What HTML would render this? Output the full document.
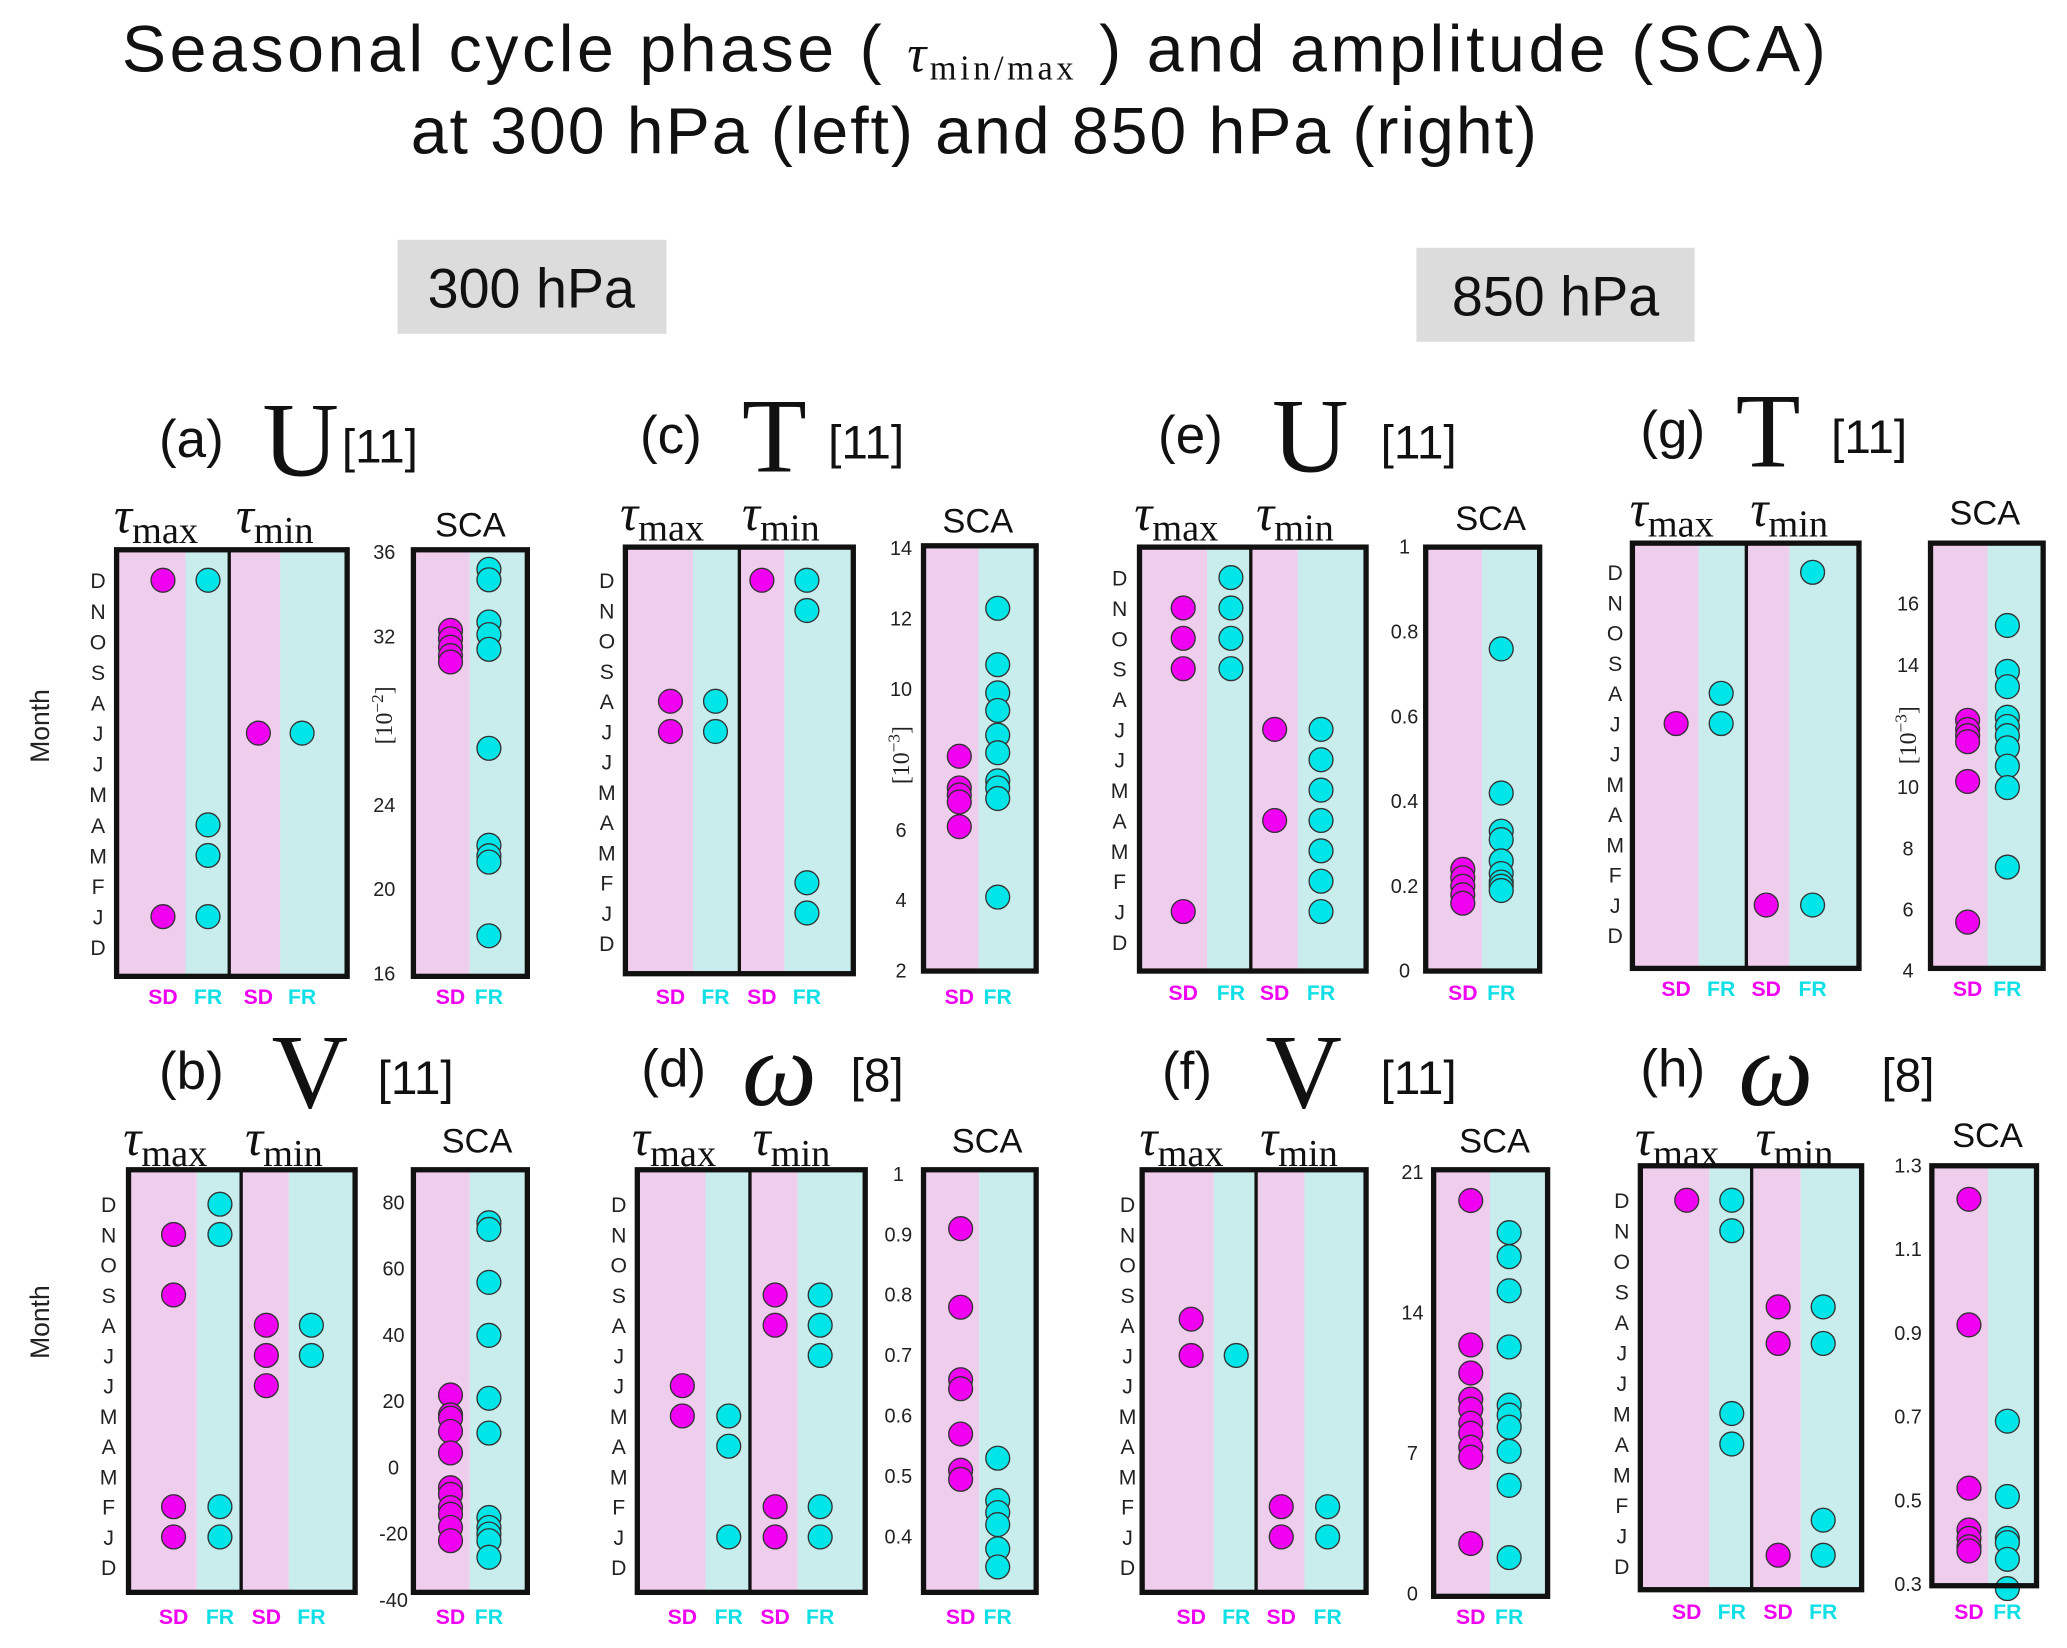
<!DOCTYPE html>
<html><head><meta charset="utf-8">
<style>
html,body{margin:0;padding:0;background:#fff;}
svg{display:block;}
</style></head>
<body>
<svg id="fig" xmlns="http://www.w3.org/2000/svg" width="2067" height="1648" viewBox="0 0 1560 1244" preserveAspectRatio="none">
<g font-family="Liberation Sans, sans-serif" fill="#111">
<text x="92" y="54" font-size="50" textLength="1286" lengthAdjust="spacing">Seasonal cycle phase ( <tspan font-family="Liberation Serif, serif" font-style="italic" font-size="40">τ</tspan><tspan font-family="Liberation Serif, serif" font-size="26" dy="6">min/max</tspan><tspan dy="-6"> ) and amplitude (SCA)</tspan></text>
<text x="310" y="116" font-size="50" textLength="850" lengthAdjust="spacing">at 300 hPa (left) and 850 hPa (right)</text>
</g>
<g>
<rect x="300" y="181" width="203" height="71" fill="#dcdcdc"/>
<text x="401" y="232" font-family="Liberation Sans, sans-serif" font-size="42" text-anchor="middle" fill="#111">300 hPa</text>
</g>
<g>
<rect x="1069" y="187" width="210" height="71" fill="#dcdcdc"/>
<text x="1174" y="238" font-family="Liberation Sans, sans-serif" font-size="42" text-anchor="middle" fill="#111">850 hPa</text>
</g>
<text transform="translate(37,548) rotate(-90)" font-family="Liberation Sans, sans-serif" font-size="20" text-anchor="middle" fill="#222">Month</text>
<text transform="translate(37,998) rotate(-90)" font-family="Liberation Sans, sans-serif" font-size="20" text-anchor="middle" fill="#222">Month</text>
</svg>
<script>
// Month index: 0 = D (bottom), 1 = J, 2 = F, ... 12 = D (top)
const monthLabels = ["D","J","F","M","A","M","J","J","A","S","O","N","D"];

// (a) U 300 hPa
const a_tmax_sd = [12, 1];
const a_tmax_fr = [12, 4, 3, 1];
const a_tmin_sd = [7];
const a_tmin_fr = [7];
const a_sca_sd = [32.3, 31.9, 31.5, 31.1, 30.8];
const a_sca_fr = [35.2, 34.7, 32.7, 32.1, 31.4, 26.7, 22.1, 21.6, 21.3, 17.8];
const a_ticks = [16, 20, 24, 32, 36];
// (c) T 300 hPa
const c_tmax_sd = [8, 7];
const c_tmax_fr = [8, 7];
const c_tmin_sd = [12];
const c_tmin_fr = [12, 11, 2, 1];
const c_sca_sd = [8.1, 7.2, 7.0, 6.8, 6.1];
const c_sca_fr = [12.3, 10.7, 9.9, 9.4, 8.7, 8.2, 7.4, 7.2, 6.9, 4.1];
const c_ticks = [2, 4, 6, 10, 12, 14];
// (e) U 850 hPa
const e_tmax_sd = [11, 10, 9, 1];
const e_tmax_fr = [12, 11, 10, 9];
const e_tmin_sd = [7, 4];
const e_tmin_fr = [7, 6, 5, 4, 3, 2, 1];
const e_sca_sd = [0.24, 0.22, 0.20, 0.18, 0.16];
const e_sca_fr = [0.76, 0.42, 0.33, 0.31, 0.26, 0.23, 0.21, 0.20, 0.19];
const e_ticks = [0, 0.2, 0.4, 0.6, 0.8, 1];
// (g) T 850 hPa
const g_tmax_sd = [7];
const g_tmax_fr = [8, 7];
const g_tmin_sd = [1];
const g_tmin_fr = [12, 1];
const g_sca_sd = [12.2, 11.9, 11.7, 11.5, 10.2, 5.6];
const g_sca_fr = [15.3, 13.8, 13.3, 12.3, 12.0, 11.7, 11.3, 10.7, 10.0, 7.4];
const g_ticks = [4, 6, 8, 10, 14, 16];
// (b) V 300 hPa
const b_tmax_sd = [11, 9, 2, 1];
const b_tmax_fr = [12, 11, 2, 1];
const b_tmin_sd = [8, 7, 6];
const b_tmin_fr = [8, 7];
const b_sca_sd = [22, 16, 15, 11, 4.5, -6, -8, -12, -14, -18, -22];
const b_sca_fr = [74, 72, 56, 40, 21, 10.5, -15, -18, -20, -22, -27];
const b_ticks = [-40, -20, 0, 20, 40, 60, 80];
// (d) omega 300 hPa
const d_tmax_sd = [6, 5];
const d_tmax_fr = [5, 4, 1];
const d_tmin_sd = [9, 8, 2, 1];
const d_tmin_fr = [9, 8, 7, 2, 1];
const d_sca_sd = [0.91, 0.78, 0.66, 0.645, 0.57, 0.51, 0.495];
const d_sca_fr = [0.53, 0.46, 0.44, 0.42, 0.38, 0.35];
const d_ticks = [0.4, 0.5, 0.6, 0.7, 0.8, 0.9, 1];
// (f) V 850 hPa
const f_tmax_sd = [8.2, 7];
const f_tmax_fr = [7];
const f_tmin_sd = [2, 1];
const f_tmin_fr = [2, 1];
const f_sca_sd = [19.6, 12.4, 11, 9.7, 9.2, 8.5, 8, 7.3, 6.8, 2.5];
const f_sca_fr = [18, 16.8, 15.1, 12.3, 9.4, 8.9, 8.3, 7.1, 5.4, 1.8];
const f_ticks = [0, 7, 14, 21];
// (h) omega 850 hPa
const h_tmax_sd = [12];
const h_tmax_fr = [12, 11, 5, 4];
const h_tmin_sd = [8.5, 7.3, 0.35];
const h_tmin_fr = [8.5, 7.3, 1.5, 0.35];
const h_sca_sd = [1.22, 0.92, 0.53, 0.43, 0.41, 0.39, 0.38];
const h_sca_fr = [0.69, 0.51, 0.41, 0.40, 0.36, 0.29];
const h_ticks = [0.3, 0.5, 0.7, 0.9, 1.1, 1.3];

const NS = "http://www.w3.org/2000/svg";
const svg = document.getElementById("fig");
const PINK = "#efcdec", CYAN = "#c9ecec", MAG = "#f000f0", CY = "#00e6e8";
const R = 9;

function mk(tag, attrs, parent, text) {
  const e = document.createElementNS(NS, tag);
  for (const k in attrs) e.setAttribute(k, attrs[k]);
  if (text !== undefined) e.textContent = text;
  parent.appendChild(e);
  return e;
}
function fmt(v) { return String(Math.round(v * 100) / 100); }

function drawPanel(L, D) {
  const g = mk("g", {}, svg);
  
  
  const t = mk("g", {}, g);
  
  
  mk("text", {x: L.tl[0], y: L.tl[2], "font-family": "Liberation Sans, sans-serif", "font-size": 40, fill: "#111"}, t, "(" + L.id + ")");
  mk("text", {x: L.tl[1], y: L.tl[2] + 14, "font-family": "Liberation Serif, serif", "font-size": 80, "font-style": L.var === "ω" ? "italic" : "normal", fill: "#111"}, t, L.var);
  mk("text", {x: L.tl[3], y: L.tl[2] + 4, "font-family": "Liberation Sans, sans-serif", "font-size": 36, fill: "#111"}, t, L.n);
  [["max", L.tau[0]], ["min", L.tau[1]]].forEach(([s, x]) => {
    const tx = mk("text", {x: x, y: L.tau[2], "font-family": "Liberation Serif, serif", "font-size": 38, fill: "#111"}, g);
    
    
    mk("tspan", {"font-style": "italic"}, tx, "τ");
    mk("tspan", {"font-size": 29, dy: 8}, tx, s);
  });
  const sl = mk("text", {x: L.scaLbl[0], y: L.scaLbl[1], "font-family": "Liberation Sans, sans-serif", "font-size": 26, "text-anchor": "middle", fill: "#111"}, g, "SCA");
  
  

  const [x0, x1, y0, y1, dv] = L.tb;
  const c = L.cols;
  const b1 = (c[0] + c[1]) / 2, b2 = (c[2] + c[3]) / 2;
  mk("rect", {x: x0, y: y0, width: b1 - x0, height: y1 - y0, fill: PINK}, g);
  mk("rect", {x: b1, y: y0, width: dv - b1, height: y1 - y0, fill: CYAN}, g);
  mk("rect", {x: dv, y: y0, width: b2 - dv, height: y1 - y0, fill: PINK}, g);
  mk("rect", {x: b2, y: y0, width: x1 - b2, height: y1 - y0, fill: CYAN}, g);
  const yM = m => L.mb + (L.mt - L.mb) * m / 12;
  monthLabels.forEach((ml, i) => {
    const e = mk("text", {x: L.mx, y: yM(i) + 6, "font-family": "Liberation Sans, sans-serif", "font-size": 16, "text-anchor": "middle", fill: "#222"}, g, ml);
    
    
  });
  const series = [[D.tmaxSD, c[0], MAG, "tmax-sd"], [D.tmaxFR, c[1], CY, "tmax-fr"], [D.tminSD, c[2], MAG, "tmin-sd"], [D.tminFR, c[3], CY, "tmin-fr"]];
  series.forEach(([arr, cx, col, nm]) => arr.forEach(m => {
    const p = mk("circle", {cx: cx, cy: yM(m), r: R, fill: col, stroke: "#333", "stroke-width": 1}, g);
    
    
  }));
  mk("line", {x1: dv, y1: y0, x2: dv, y2: y1, stroke: "#111", "stroke-width": 2.5}, g);
  const fr = mk("rect", {x: x0, y: y0, width: x1 - x0, height: y1 - y0, fill: "none", stroke: "#111", "stroke-width": 4}, g);
  
  
  [["SD", c[0], MAG], ["FR", c[1], "#10e0e6"], ["SD", c[2], MAG], ["FR", c[3], "#10e0e6"]].forEach(([s, x, col]) => {
    const e = mk("text", {x: x, y: L.lblY, "font-family": "Liberation Sans, sans-serif", "font-size": 16, "font-weight": "bold", "text-anchor": "middle", fill: col}, g, s);
    
    
  });

  const [s0, s1, t0, t1] = L.sb;
  const sm = (L.sd + L.fr) / 2;
  mk("rect", {x: s0, y: t0, width: sm - s0, height: t1 - t0, fill: PINK}, g);
  mk("rect", {x: sm, y: t0, width: s1 - sm, height: t1 - t0, fill: CYAN}, g);
  const [va, pa, vb, pb] = L.cal;
  const yV = v => pa + (v - va) * (pb - pa) / (vb - va);
  D.ticks.forEach(v => {
    const e = mk("text", {x: L.tickx, y: yV(v) + 5, "font-family": "Liberation Sans, sans-serif", "font-size": 15, "text-anchor": "middle", fill: "#222"}, g, fmt(v));
    
    
  });
  if (L.unit) {
    const u = mk("text", {transform: "translate(" + (L.tickx + 6) + "," + L.unit[1] + ") rotate(-90)", "font-family": "Liberation Serif, serif", "font-size": 18, "text-anchor": "middle", fill: "#222"}, g);
    
    
    mk("tspan", {}, u, "[10");
    mk("tspan", {dy: -7, "font-size": 13}, u, "−" + L.unit[0]);
    mk("tspan", {dy: 7}, u, "]");
  }
  [[D.scaSD, L.sd, MAG, "sca-sd"], [D.scaFR, L.fr, CY, "sca-fr"]].forEach(([arr, cx, col, nm]) => arr.forEach(v => {
    const p = mk("circle", {cx: cx, cy: yV(v), r: R, fill: col, stroke: "#333", "stroke-width": 1}, g);
    
    
  }));
  const sf = mk("rect", {x: s0, y: t0, width: s1 - s0, height: t1 - t0, fill: "none", stroke: "#111", "stroke-width": 4}, g);
  
  
  [["SD", L.sd, MAG], ["FR", L.fr, "#10e0e6"]].forEach(([s, x, col]) => {
    const e = mk("text", {x: x, y: L.lblY, "font-family": "Liberation Sans, sans-serif", "font-size": 16, "font-weight": "bold", "text-anchor": "middle", fill: col}, g, s);
    
    
  });
}

const layouts = [
  {id: "a", var: "U", n: "[11]", tl: [120, 198, 345, 258], tau: [86, 178, 402], scaLbl: [355, 405],
   tb: [88, 262, 415, 737, 173], cols: [123, 157, 195, 228], mt: 438, mb: 715, mx: 74,
   sb: [312, 398, 415, 737], sd: 340, fr: 369, cal: [16, 735, 36, 417], tickx: 290, unit: ["2", 540], lblY: 758,
   d: {tmaxSD: a_tmax_sd, tmaxFR: a_tmax_fr, tminSD: a_tmin_sd, tminFR: a_tmin_fr, scaSD: a_sca_sd, scaFR: a_sca_fr, ticks: a_ticks}},
  {id: "c", var: "T", n: "[11]", tl: [483, 560, 342, 625], tau: [468, 560, 400], scaLbl: [738, 402],
   tb: [472, 644, 413, 735, 558], cols: [506, 540, 575, 609], mt: 438, mb: 712, mx: 458,
   sb: [697, 782, 412, 733], sd: 724, fr: 753, cal: [2, 733, 14, 414], tickx: 680, unit: ["3", 570], lblY: 758,
   d: {tmaxSD: c_tmax_sd, tmaxFR: c_tmax_fr, tminSD: c_tmin_sd, tminFR: c_tmin_fr, scaSD: c_sca_sd, scaFR: c_sca_fr, ticks: c_ticks}},
  {id: "e", var: "U", n: "[11]", tl: [874, 960, 342, 1042], tau: [856, 948, 400], scaLbl: [1125, 400],
   tb: [860, 1031, 413, 733, 944], cols: [893, 929, 962, 997], mt: 436, mb: 711, mx: 845,
   sb: [1076, 1162, 413, 733], sd: 1104, fr: 1133, cal: [0, 733, 1, 413], tickx: 1060, unit: null, lblY: 755,
   d: {tmaxSD: e_tmax_sd, tmaxFR: e_tmax_fr, tminSD: e_tmin_sd, tminFR: e_tmin_fr, scaSD: e_sca_sd, scaFR: e_sca_fr, ticks: e_ticks}},
  {id: "g", var: "T", n: "[11]", tl: [1238, 1310, 338, 1382], tau: [1230, 1321, 397], scaLbl: [1498, 396],
   tb: [1232, 1403, 410, 731, 1318], cols: [1265, 1299, 1333, 1368], mt: 432, mb: 706, mx: 1219,
   sb: [1457, 1542, 410, 731], sd: 1485, fr: 1515, cal: [4, 733, 16, 456], tickx: 1440, unit: ["3", 555], lblY: 752,
   d: {tmaxSD: g_tmax_sd, tmaxFR: g_tmax_fr, tminSD: g_tmin_sd, tminFR: g_tmin_fr, scaSD: g_sca_sd, scaFR: g_sca_fr, ticks: g_ticks}},
  {id: "b", var: "V", n: "[11]", tl: [120, 205, 822, 285], tau: [93, 185, 872], scaLbl: [360, 870],
   tb: [97, 268, 883, 1202, 182], cols: [131, 166, 201, 235], mt: 909, mb: 1183, mx: 82,
   sb: [312, 398, 883, 1202], sd: 340, fr: 369, cal: [-40, 1208, 80, 908], tickx: 297, unit: null, lblY: 1226,
   d: {tmaxSD: b_tmax_sd, tmaxFR: b_tmax_fr, tminSD: b_tmin_sd, tminFR: b_tmin_fr, scaSD: b_sca_sd, scaFR: b_sca_fr, ticks: b_ticks}},
  {id: "d", var: "ω", n: "[8]", tl: [484, 560, 820, 642], tau: [477, 568, 872], scaLbl: [745, 870],
   tb: [481, 653, 883, 1202, 566], cols: [515, 550, 585, 619], mt: 909, mb: 1183, mx: 467,
   sb: [697, 782, 883, 1202], sd: 725, fr: 753, cal: [0.4, 1160, 0.9, 932], tickx: 678, unit: null, lblY: 1226,
   d: {tmaxSD: d_tmax_sd, tmaxFR: d_tmax_fr, tminSD: d_tmin_sd, tminFR: d_tmin_fr, scaSD: d_sca_sd, scaFR: d_sca_fr, ticks: d_ticks}},
  {id: "f", var: "V", n: "[11]", tl: [877, 955, 822, 1042], tau: [860, 951, 872], scaLbl: [1128, 870],
   tb: [862, 1031, 883, 1202, 948], cols: [899, 933, 967, 1002], mt: 909, mb: 1183, mx: 851,
   sb: [1082, 1168, 883, 1205], sd: 1110, fr: 1139, cal: [0, 1203, 21, 885], tickx: 1066, unit: null, lblY: 1226,
   d: {tmaxSD: f_tmax_sd, tmaxFR: f_tmax_fr, tminSD: f_tmin_sd, tminFR: f_tmin_fr, scaSD: f_sca_sd, scaFR: f_sca_fr, ticks: f_ticks}},
  {id: "h", var: "ω", n: "[8]", tl: [1238, 1312, 820, 1420], tau: [1234, 1325, 872], scaLbl: [1500, 866],
   tb: [1238, 1405, 880, 1200, 1322], cols: [1273, 1307, 1342, 1376], mt: 906, mb: 1182, mx: 1224,
   sb: [1458, 1537, 880, 1197], sd: 1486, fr: 1515, cal: [0.3, 1196, 1.3, 880], tickx: 1440, unit: null, lblY: 1222,
   d: {tmaxSD: h_tmax_sd, tmaxFR: h_tmax_fr, tminSD: h_tmin_sd, tminFR: h_tmin_fr, scaSD: h_sca_sd, scaFR: h_sca_fr, ticks: h_ticks}}
];
layouts.forEach(L => drawPanel(L, L.d));
</script>
</body></html>
